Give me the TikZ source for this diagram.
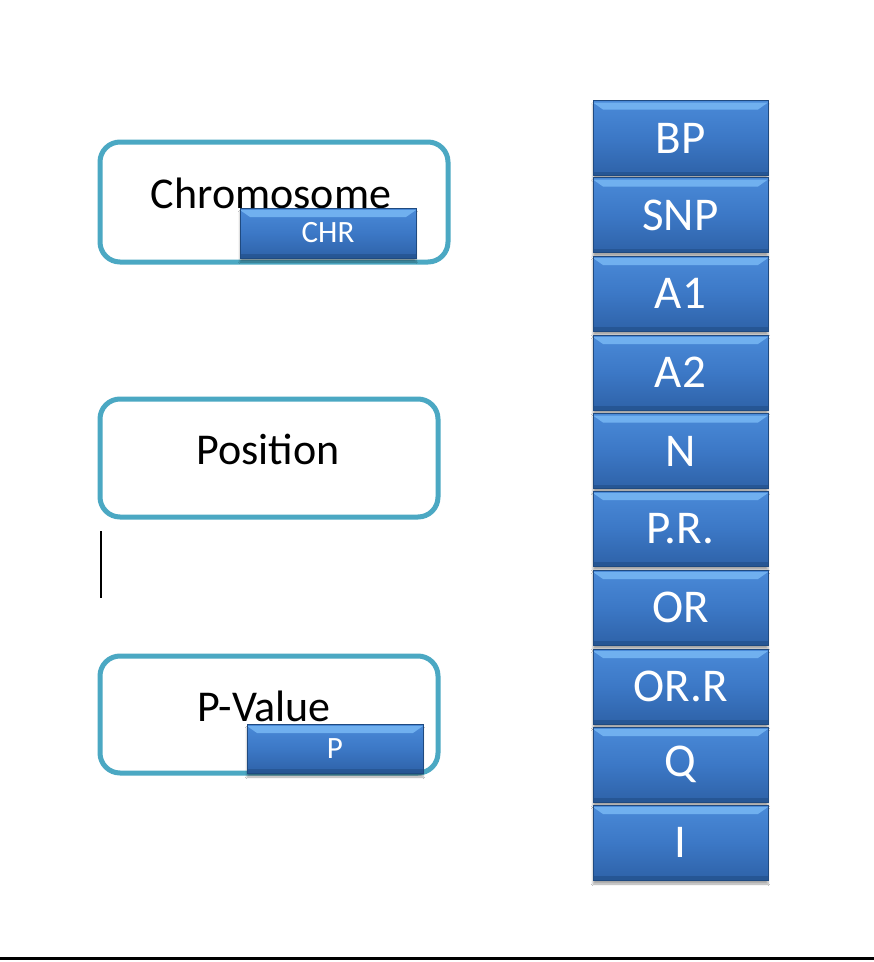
\documentclass[tikz,border=0pt]{standalone}
\usepackage{fontspec}
\setmainfont{Carlito}
\usetikzlibrary{shadows.blur,calc}
\definecolor{teal1}{HTML}{4BA8C3}
\definecolor{btntop}{HTML}{4A8AD8}
\definecolor{btnmid}{HTML}{3C78C6}
\definecolor{btnbot}{HTML}{2E62A8}
\definecolor{btnhi}{HTML}{78B8F4}
\definecolor{btnedge}{HTML}{1F4A80}
\tikzset{
  frame/.style={draw=teal1, line width=5pt, rounded corners=20pt, fill=white,
    minimum width=#1, inner sep=0pt},
  btn/.style={draw=btnedge, line width=0.8pt, inner sep=0pt,
    text=white, font=\fontsize{47}{47}\selectfont,
    blur shadow={shadow blur steps=6, shadow xshift=0pt, shadow yshift=-4pt, shadow opacity=35},
    path picture={
      \fill[top color=btntop, bottom color=btnbot, middle color=btnmid]
        (path picture bounding box.north west) rectangle (path picture bounding box.south east);
      \fill[btnhi, opacity=0.85]
        ($(path picture bounding box.north west)+(0,-2pt)$) --
        ($(path picture bounding box.north east)+(0,-2pt)$) --
        ($(path picture bounding box.north east)+(-10pt,-9pt)$) --
        ($(path picture bounding box.north west)+(10pt,-9pt)$) -- cycle;
      \fill[btnedge, opacity=0.5]
        ($(path picture bounding box.south west)+(0,4pt)$) rectangle (path picture bounding box.south east);
    }},
  colbtn/.style={btn, minimum width=175pt, minimum height=75pt},
  smallbtn/.style={btn, minimum width=176pt, minimum height=50pt, font=\fontsize{31}{31}\selectfont},
  label/.style={font=\fontsize{44}{44}\selectfont, text=black, inner sep=0pt}
}
\begin{document}
\begin{tikzpicture}[x=1pt,y=-1pt]
\useasboundingbox (0,0) rectangle (874,962);
\fill[white] (0,0) rectangle (874,962);

% left frames
\node[frame=348pt, minimum height=120pt] (chrbox) at (274,202) {};
\node[label] (chrtext) at (271,193) {Chromosome};
\node[smallbtn] (chr) at (328,233) {CHR};

\node[frame=338pt, minimum height=118pt] (posbox) at (269,458) {};
\node[label] (postext) at (268,449) {Position};

\node[frame=338pt, minimum height=117pt] (pvbox) at (269,714.5) {};
\node[label] (pvtext) at (264,706) {P-Value};
\node[smallbtn, minimum height=49pt] (p) at (335,748.5) {P};

% column of buttons
\node[colbtn] (bp)  at (680.5,138)   {BP};
\node[colbtn] (snp) at (680.5,215)   {SNP};
\node[colbtn] (a1)  at (680.5,293.5) {A1};
\node[colbtn] (a2)  at (680.5,372.5) {A2};
\node[colbtn] (n)   at (680.5,451)   {N};
\node[colbtn] (pr)  at (680.5,528.5) {P.R.};
\node[colbtn] (or)  at (680.5,607.5) {OR};
\node[colbtn] (orr) at (680.5,686.5) {OR.R};
\node[colbtn] (q)   at (680.5,764.5) {Q};
\node[colbtn] (i)   at (680.5,842.5) {I};

% cursor line
\coordinate (c1) at (101,531);
\coordinate (c2) at (101,598);
\draw[line width=1.6pt] (c1) -- (c2);

% bottom rule
\coordinate (b1) at (0,958.5);
\coordinate (b2) at (874,958.5);
\draw[line width=3pt] (b1) -- (b2);
\end{tikzpicture}
\end{document}
